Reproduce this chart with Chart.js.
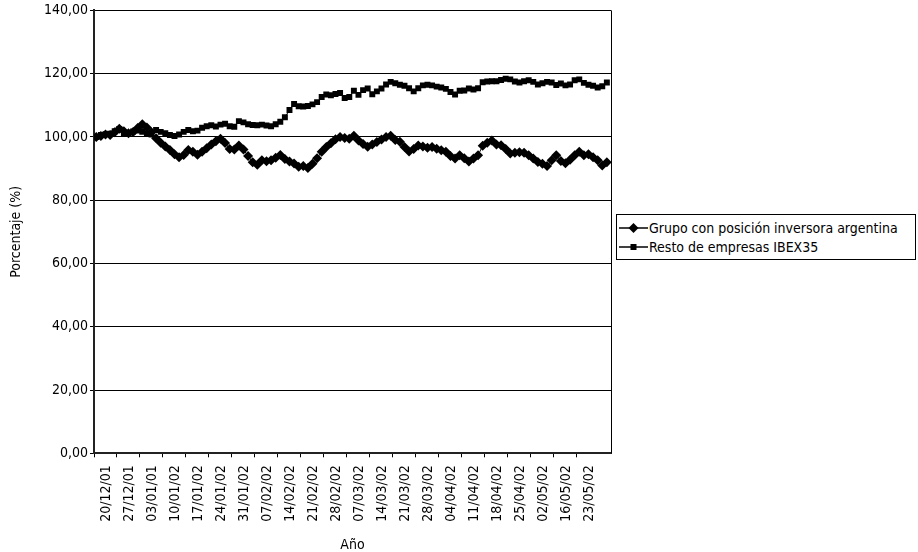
<!DOCTYPE html>
<html>
<head>
<meta charset="utf-8">
<script src="https://cdn.jsdelivr.net/npm/chart.js@4.4.1/dist/chart.umd.min.js"></script>
<style>
    html, body { margin: 0; padding: 0; background: #fff; }
    #wrap { position: relative; width: 918px; height: 552px; }
    #legend {
        position: absolute; left: 616px; top: 214px; width: 298px; height: 44px;
        border: 1px solid #000; background: #fff;
        font-family: 'DejaVu Sans Condensed', 'Liberation Sans Narrow', Arial, sans-serif;
        font-size: 14px; color: #000; white-space: nowrap;
    }
    .item { display: flex; align-items: center; height: 19px; margin-top: 3px; }
    .item + .item { margin-top: 0; }
    .item svg { margin-left: 2px; margin-right: 1px; }
</style>
</head>
<body>
<div id="wrap">
    <canvas id="chart" width="918" height="552"></canvas>
    <div id="legend"></div>
</div>
<script>
// ---- data ----
const tickLabels = ['20/12/01', '27/12/01', '03/01/01', '10/01/02', '17/01/02', '24/01/02', '31/01/02',
    '07/02/02', '14/02/02', '21/02/02', '28/02/02', '07/03/02', '14/03/02', '21/03/02', '28/03/02',
    '04/04/02', '11/04/02', '18/04/02', '25/04/02', '02/05/02', '16/05/02', '23/05/02'];

const seriesNames = ['Grupo con posición inversora argentina', 'Resto de empresas IBEX35'];

const grupo = [
    100.0, 100.3, 100.8, 100.6, 101.5, 102.6, 101.8, 101.2, 101.6, 102.8,
    104.0, 103.0, 101.5, 99.6, 98.2, 97.0, 95.9, 94.5, 93.6, 94.3,
    95.9, 95.3, 94.4, 95.3, 96.4, 97.6, 98.6, 99.4, 98.1, 96.2,
    96.0, 97.3, 96.0, 94.0, 92.0, 91.2, 92.6, 92.3, 92.6, 93.4,
    94.3, 93.0, 92.2, 91.6, 90.6, 90.8, 90.2, 91.5, 93.3, 95.3,
    96.8, 98.0, 99.3, 100.0, 99.7, 99.4, 100.4, 98.9, 97.8, 96.9,
    97.6, 98.4, 99.2, 100.0, 100.4, 99.0, 98.5, 96.8, 95.4, 96.2,
    97.3, 97.0, 96.6, 96.8, 96.3, 95.8, 95.3, 94.0, 93.2, 94.2,
    93.3, 92.2, 93.2, 94.2, 97.2, 98.2, 98.9, 97.6, 97.4, 96.2,
    94.8, 95.0, 95.2, 95.0, 94.2, 93.2, 92.1, 91.5, 90.8, 92.6,
    94.2, 92.4, 91.7, 92.8, 94.2, 95.3, 94.2, 94.5, 93.6, 92.6,
    91.0, 92.0
];

const resto = [
    100.0, 100.6, 100.9, 101.0, 101.8, 102.5, 101.2, 101.0, 101.7, 102.0,
    101.6, 101.0, 100.8, 102.2, 101.6, 101.2, 100.6, 100.3, 100.8, 101.6,
    102.2, 101.8, 102.0, 102.9, 103.4, 103.7, 103.3, 103.9, 104.2, 103.4,
    103.2, 105.0, 104.6, 104.0, 103.8, 103.7, 103.9, 103.6, 103.4, 104.0,
    104.8, 106.2, 108.5, 110.4, 109.7, 109.6, 109.8, 110.3, 111.0, 112.6,
    113.4, 113.2, 113.6, 113.9, 112.3, 112.6, 114.6, 113.3, 114.8, 115.3,
    113.5, 114.4, 115.3, 116.6, 117.4, 117.0, 116.5, 116.2, 115.4, 114.4,
    115.4, 116.3, 116.5, 116.3, 115.9, 115.6, 115.2, 114.2, 113.4, 114.6,
    114.7, 115.3, 115.0, 115.4, 117.3, 117.5, 117.6, 117.6, 118.0, 118.4,
    118.2, 117.5, 117.2, 117.6, 117.9, 117.4, 116.6, 117.0, 117.4, 117.2,
    116.4, 116.9, 116.3, 116.6, 117.9, 118.2, 117.1, 116.5, 116.2, 115.6,
    116.0, 117.2
];

const yTicks = [0, 20, 40, 60, 80, 100, 120, 140];
const DAYS_PER_LABEL = 5;

// ---- chart ----
const FONT = "'DejaVu Sans Condensed', 'Liberation Sans Narrow', Arial, sans-serif";

function toPoints(values) {
    // each day sits in the middle of its category slot
    return values.map((v, i) => ({ x: i + 0.5, y: v }));
}

const rightBorder = {
    id: 'rightBorder',
    beforeDatasetsDraw(chart) {
        const { ctx, chartArea: a } = chart;
        ctx.save();
        ctx.strokeStyle = '#000';
        ctx.lineWidth = 1;
        ctx.beginPath();
        ctx.moveTo(a.right + 0.5, a.top);
        ctx.lineTo(a.right + 0.5, a.bottom);
        ctx.stroke();
        ctx.restore();
    }
};

new Chart(document.getElementById('chart').getContext('2d'), {
    type: 'line',
    data: {
        datasets: [
            { label: seriesNames[0], data: toPoints(grupo), borderColor: '#000', borderWidth: 1,
                pointStyle: 'rectRot', pointRadius: 5, pointBackgroundColor: '#000', pointBorderWidth: 0, tension: 0 },
            { label: seriesNames[1], data: toPoints(resto), borderColor: '#000', borderWidth: 1,
                pointStyle: 'rect', pointRadius: 4.2, pointBackgroundColor: '#000', pointBorderWidth: 0, tension: 0 }
        ]
    },
    options: {
        responsive: false, animation: false,
        layout: { padding: { top: 10, right: 307, bottom: 0, left: 0 } },
        plugins: { legend: { display: false }, tooltip: { enabled: false } },
        scales: {
            x: {
                type: 'linear', min: 0, max: 112.4,
                afterBuildTicks(scale) {
                    scale.ticks = tickLabels.map((_, k) => ({ value: k * DAYS_PER_LABEL }));
                },
                afterFit(scale) { scale.height = 98.7; },
                ticks: {
                    autoSkip: false, maxRotation: 90, minRotation: 90, padding: 8, labelOffset: 12.5,
                    color: '#000', font: { family: FONT, size: 14 },
                    callback: (v) => tickLabels[Math.round(v / DAYS_PER_LABEL)]
                },
                grid: { drawOnChartArea: false, drawTicks: true, tickLength: 4, color: '#000' },
                border: { display: true, color: '#222', width: 2 },
                title: { display: true, text: 'Año', color: '#000', padding: 0,
                    font: { family: FONT, size: 14, lineHeight: 1 } }
            },
            y: {
                min: 0, max: 140,
                afterBuildTicks(scale) { scale.ticks = yTicks.map(v => ({ value: v })); },
                afterFit(scale) { scale.width = 94; },
                ticks: {
                    padding: 2, color: '#000', font: { family: FONT, size: 14 },
                    callback: (v) => v.toFixed(2).replace('.', ',')
                },
                grid: { color: '#000', lineWidth: 1, tickLength: 4 },
                border: { display: true, color: '#222', width: 2 },
                title: { display: true, text: 'Porcentaje (%)', color: '#000', padding: { top: 9, bottom: 0 },
                    font: { family: FONT, size: 14, lineHeight: 1 } }
            }
        }
    },
    plugins: [rightBorder]
});

// ---- legend (html so the text stays text) ----
const symbols = [
    '<polygon points="14.5,1 19.5,6 14.5,11 9.5,6" fill="#000"/>',
    '<rect x="11.5" y="3" width="6" height="6" fill="#000"/>'
];
document.getElementById('legend').innerHTML = seriesNames.map((name, k) => `
    <div class="item">
        <svg width="29" height="12"><line x1="0" y1="6" x2="29" y2="6" stroke="#000" stroke-width="1.5"/>${symbols[k]}</svg>
        <span>${name}</span>
    </div>`).join('');
</script>
</body>
</html>
